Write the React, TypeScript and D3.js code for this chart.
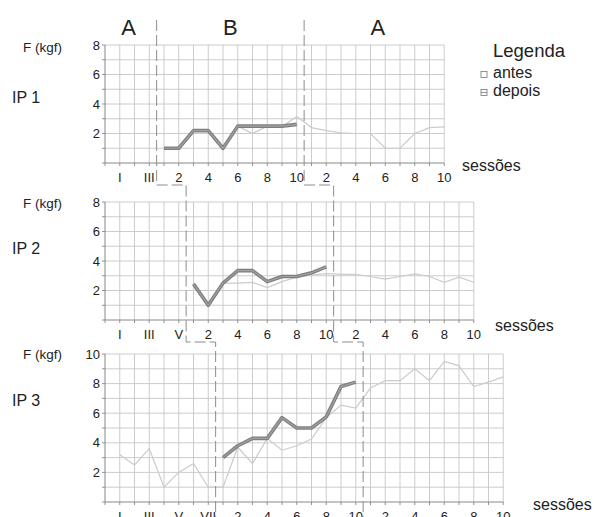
// App.tsx - multiple baseline chart (IP 1..3), antes / depois
import React, { useEffect, useRef } from 'react';
import * as d3 from 'd3';

const phaseLabels = ['A', 'B', 'A'];
const sessionTicks = ['2', '4', '6', '8', '10'];

// IP 1
const ip1Baseline = ['I', 'II', 'III'];
const ip1AntesBase: number[] = [];
const ip1AntesB = [1.0, 1.0, 2.1, 2.1, 1.0, 2.5, 2.0, 2.5, 2.45, 3.15];
const ip1DepoisB = [1.0, 1.0, 2.2, 2.2, 1.0, 2.5, 2.5, 2.5, 2.5, 2.62];
const ip1AntesA = [2.4, 2.2, 2.05, 2.0, 2.0, 1.0, 1.0, 2.0, 2.4, 2.45];

// IP 2
const ip2Baseline = ['I', 'II', 'III', 'IV', 'V'];
const ip2AntesBase: number[] = [];
const ip2AntesB = [2.4, 1.0, 2.5, 2.5, 2.55, 2.2, 2.6, 2.9, 3.05, 3.15];
const ip2DepoisB = [2.45, 1.0, 2.5, 3.35, 3.35, 2.6, 2.95, 2.95, 3.2, 3.6];
const ip2AntesA = [3.1, 3.1, 2.95, 2.77, 2.95, 3.13, 2.95, 2.56, 2.9, 2.56];

// IP 3
const ip3Baseline = ['I', 'II', 'III', 'IV', 'V', 'VI', 'VII'];
const ip3AntesBase = [3.2, 2.5, 3.6, 1.0, 2.0, 2.6, 1.0];
const ip3AntesB = [1.0, 3.7, 2.6, 4.3, 3.5, 3.8, 4.25, 5.7, 6.55, 6.35];
const ip3DepoisB = [3.0, 3.8, 4.3, 4.3, 5.7, 5.0, 5.0, 5.75, 7.8, 8.1];
const ip3AntesA = [7.7, 8.2, 8.2, 9.0, 8.2, 9.5, 9.2, 7.8, 8.1, 8.45];

const FONT = 'Liberation Sans, Arial, sans-serif';
const UNIT = 14.75;
const X0 = 105;

interface Panel {
    name: string
    baseline: string[]
    antesBase: number[]
    antesB: number[]
    depoisB: number[]
    antesA: number[]
    yMax: number
    top: number
    bottom: number
    fLabelY: number
    ipLabelY: number
    sessX: number
    sessY: number
}

const panels: Panel[] = [
    { name: 'IP 1', baseline: ip1Baseline, antesBase: ip1AntesBase, antesB: ip1AntesB, depoisB: ip1DepoisB, antesA: ip1AntesA, yMax: 8, top: 45, bottom: 163, fLabelY: 51.5, ipLabelY: 103, sessX: 462, sessY: 171 },
    { name: 'IP 2', baseline: ip2Baseline, antesBase: ip2AntesBase, antesB: ip2AntesB, depoisB: ip2DepoisB, antesA: ip2AntesA, yMax: 8, top: 202, bottom: 320, fLabelY: 207.5, ipLabelY: 254, sessX: 495, sessY: 331 },
    { name: 'IP 3', baseline: ip3Baseline, antesBase: ip3AntesBase, antesB: ip3AntesB, depoisB: ip3DepoisB, antesA: ip3AntesA, yMax: 10, top: 354, bottom: 502, fLabelY: 358.5, ipLabelY: 406, sessX: 533, sessY: 510 },
];

export default function App() {
    const ref = useRef<SVGSVGElement>(null);

    useEffect(() => {
        const svg = d3.select(ref.current);
        svg.selectAll('*').remove();

        const dashed = '11,4';
        const lineGen = d3.line<[number, number]>().x(d => d[0]).y(d => d[1]);
        const phaseLines: [number, number][][] = [[], []];

        panels.forEach((p, pi) => {
            const nb = p.baseline.length;
            const total = nb + 20;
            const x = d3.scaleLinear().domain([0, total]).range([X0, X0 + total * UNIT]);
            const y = d3.scaleLinear().domain([0, p.yMax]).range([p.bottom, p.top]);
            const g = svg.append('g');

            // grid
            g.selectAll('line.vg').data(d3.range(1, total + 1)).enter().append('line')
                .attr('x1', d => x(d)).attr('x2', d => x(d))
                .attr('y1', p.top).attr('y2', p.bottom)
                .attr('stroke', '#c6c6c6').attr('stroke-width', 0.9);
            g.selectAll('line.hg').data(d3.range(1, p.yMax + 1)).enter().append('line')
                .attr('x1', X0).attr('x2', x(total))
                .attr('y1', d => y(d)).attr('y2', d => y(d))
                .attr('stroke', '#c6c6c6').attr('stroke-width', 0.9);

            // ticks
            g.selectAll('line.xt').data(d3.range(0, total + 1)).enter().append('line')
                .attr('x1', d => x(d)).attr('x2', d => x(d))
                .attr('y1', p.bottom).attr('y2', p.bottom + 3)
                .attr('stroke', '#888').attr('stroke-width', 0.9);
            g.selectAll('line.yt').data(d3.range(0, p.yMax + 1)).enter().append('line')
                .attr('x1', X0 - 3).attr('x2', X0)
                .attr('y1', d => y(d)).attr('y2', d => y(d))
                .attr('stroke', '#888').attr('stroke-width', 0.9);

            // axes
            g.append('line').attr('x1', X0).attr('x2', X0).attr('y1', p.top).attr('y2', p.bottom)
                .attr('stroke', '#888').attr('stroke-width', 1);
            g.append('line').attr('x1', X0).attr('x2', x(total)).attr('y1', p.bottom).attr('y2', p.bottom)
                .attr('stroke', '#888').attr('stroke-width', 1);

            // y tick labels
            g.selectAll('text.yl').data(d3.range(2, p.yMax + 1, 2)).enter().append('text')
                .attr('x', X0 - 5).attr('y', d => y(d) + 4.6)
                .attr('text-anchor', 'end').attr('font-family', FONT).attr('font-size', 13).attr('fill', '#222')
                .text(d => d);

            // x tick labels
            const xLabels: [number, string][] = [];
            p.baseline.forEach((s, i) => { if (i % 2 === 0) xLabels.push([i + 1, s]) });
            sessionTicks.forEach((s, i) => xLabels.push([nb + 2 + i * 2, s]));
            sessionTicks.forEach((s, i) => xLabels.push([nb + 12 + i * 2, s]));
            g.selectAll('text.xl').data(xLabels).enter().append('text')
                .attr('x', d => x(d[0])).attr('y', p.bottom + 18.5)
                .attr('text-anchor', 'middle').attr('font-family', FONT).attr('font-size', 13).attr('fill', '#222')
                .text(d => d[1]);

            // antes series (continuous through phases)
            const antes: [number, number][] = [
                ...p.antesBase.map((v, i): [number, number] => [x(nb - p.antesBase.length + 1 + i), y(v)]),
                ...p.antesB.map((v, i): [number, number] => [x(nb + 1 + i), y(v)]),
                ...p.antesA.map((v, i): [number, number] => [x(nb + 11 + i), y(v)]),
            ];
            g.append('path').attr('d', lineGen(antes))
                .attr('fill', 'none').attr('stroke', '#cbcbcb').attr('stroke-width', 1.2);

            const depois: [number, number][] = p.depoisB.map((v, i) => [x(nb + 1 + i), y(v)]);
            g.append('path').attr('d', lineGen(depois))
                .attr('fill', 'none').attr('stroke', '#7e7e7e').attr('stroke-width', 3.6).attr('stroke-linejoin', 'round');
            g.append('path').attr('d', lineGen(depois))
                .attr('fill', 'none').attr('stroke', '#a2a2a2').attr('stroke-width', 1.2).attr('stroke-linejoin', 'round');

            // labels
            g.append('text').attr('x', 23).attr('y', p.fLabelY)
                .attr('font-family', FONT).attr('font-size', 13.5).attr('fill', '#222').text('F (kgf)');
            g.append('text').attr('x', 12).attr('y', p.ipLabelY)
                .attr('font-family', FONT).attr('font-size', 16).attr('fill', '#222').text(p.name);
            g.append('text').attr('x', p.sessX).attr('y', p.sessY)
                .attr('font-family', FONT).attr('font-size', 16).attr('fill', '#222').text('sessões');

            // phase change lines
            const b1 = x(nb + 0.5);
            const b2 = x(nb + 10.5);
            const bends = [b1, b2];
            bends.forEach((bx, li) => {
                if (pi === 0) phaseLines[li].push([bx, 20]);
                else phaseLines[li].push([bx, p.top - 15]);
                if (pi === panels.length - 1) phaseLines[li].push([bx, 517]);
                else phaseLines[li].push([bx, p.bottom + 22]);
            });

            if (pi === 0) {
                const centers = [x(1.6), x(nb + 5.5), x(nb + 15.5)];
                phaseLabels.forEach((l, i) => {
                    g.append('text').attr('x', centers[i]).attr('y', 35)
                        .attr('text-anchor', 'middle').attr('font-family', FONT).attr('font-size', 22).attr('fill', '#222')
                        .text(l);
                });
            }
        });

        // connect phase lines between panels (horizontal steps)
        phaseLines.forEach(pts => {
            const path: [number, number][] = [];
            for (let i = 0; i < pts.length; i += 2) {
                if (i > 0) path.push([pts[i][0], pts[i - 1][1]]);
                path.push(pts[i], pts[i + 1]);
            }
            // merge: vertical down, horizontal, vertical down
            const clean: [number, number][] = [];
            for (let i = 0; i < pts.length; i += 2) {
                const top = i === 0 ? pts[i] : [pts[i][0], pts[i - 1][1]] as [number, number];
                clean.push(top, pts[i + 1]);
            }
            svg.append('path').attr('d', lineGen(clean))
                .attr('fill', 'none').attr('stroke', '#8c8c8c').attr('stroke-width', 1)
                .attr('stroke-dasharray', dashed);
        });

        // legend
        const lg = svg.append('g');
        lg.append('text').attr('x', 493).attr('y', 57).attr('font-family', FONT).attr('font-size', 18.5).attr('fill', '#222').text('Legenda');
        lg.append('rect').attr('x', 481).attr('y', 71.5).attr('width', 6).attr('height', 6)
            .attr('fill', '#fff').attr('stroke', '#777').attr('stroke-width', 0.8);
        lg.append('text').attr('x', 493).attr('y', 77.5).attr('font-family', FONT).attr('font-size', 16).attr('fill', '#222').text('antes');
        lg.append('rect').attr('x', 481).attr('y', 89.5).attr('width', 6).attr('height', 6)
            .attr('fill', '#fff').attr('stroke', '#777').attr('stroke-width', 0.8);
        lg.append('line').attr('x1', 481).attr('x2', 487).attr('y1', 92.5).attr('y2', 92.5)
            .attr('stroke', '#777').attr('stroke-width', 0.8);
        lg.append('text').attr('x', 493).attr('y', 95.5).attr('font-family', FONT).attr('font-size', 16).attr('fill', '#222').text('depois');
    }, []);

    return (
        <svg ref={ref} width={594} height={517}
            style={{ position: 'absolute', left: 0, top: 0, background: '#fff' }} />
    );
}
